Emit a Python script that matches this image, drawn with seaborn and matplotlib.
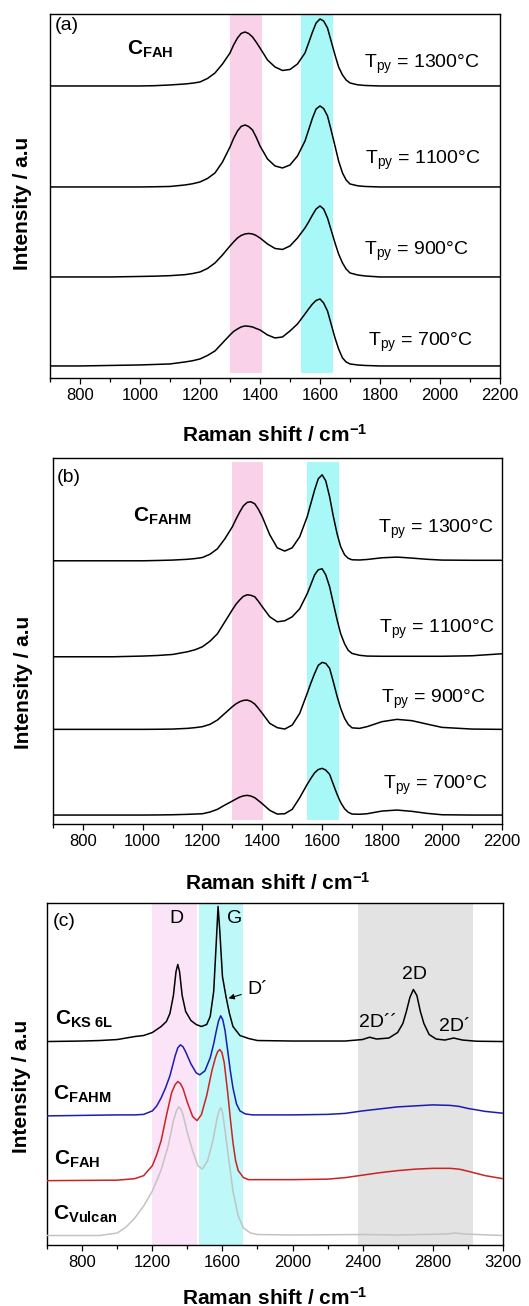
import numpy as np
import pandas as pd
import seaborn as sns
import matplotlib.pyplot as plt
from matplotlib.ticker import MultipleLocator

# ---- panels (a) and (b): Raman shift grid, cm-1 ----
shift_ab = [700, 800, 900, 1000, 1050, 1100, 1150, 1175, 1200, 1225,
            1250, 1275, 1300, 1312, 1325, 1337, 1350, 1362, 1375, 1387,
            1400, 1425, 1450, 1475, 1500, 1525, 1550, 1562, 1575, 1587,
            1600, 1612, 1625, 1637, 1650, 1662, 1675, 1687, 1700, 1725,
            1750, 1800, 1850, 1900, 1950, 2000, 2100, 2200]

temps = ['1300', '1100', '900', '700']

# C_FAH spectra (height above own baseline, a.u.)
fah_1300 = [0, 0, 0, 0, 0.3, 1, 2, 2.8, 4, 7.5,
            13, 22, 33, 41, 48, 52.5, 54, 52.5, 49, 44,
            38, 26, 19, 15.5, 16.5, 22, 33, 43, 54, 63,
            67, 65, 58, 45, 31, 19, 11, 6, 3, 1.2,
            0.5, 0, 0, 0, 0, 0, 0, 0]
fah_1100 = [0, 0, 0, 0, 0.2, 0.5, 2, 3.2, 5, 8.5,
            14, 25, 40, 48.5, 56, 60.5, 62, 60.5, 57, 50,
            41, 28, 21, 19, 22, 31, 46, 57, 69, 78,
            81, 78.5, 71, 57, 41, 26, 14, 7, 3, 1.2,
            0.5, 0, 0, 0, 0, 0, 0, 0]
fah_900 = [0, 0, 0, 0.5, 0.8, 1.3, 2.3, 3.4, 5, 8.5,
           14, 22, 31, 35, 39, 41.5, 43, 43.5, 43, 41.5,
           39, 33, 28.5, 27.5, 31, 39, 49, 55, 62, 68,
           71, 68, 59, 47, 34, 23, 14, 8, 4, 2,
           1, 0, 0, 0, 0, 0, 0, 0]
fah_700 = [0, 0, 0.5, 1, 1.5, 2, 4, 5.2, 7, 10.5,
           15, 23, 31, 34.5, 37, 39, 40, 39.7, 39, 37.5,
           36, 31, 28, 29, 35, 42, 52, 57, 62, 65.5,
           67, 63, 55, 42, 28, 17, 8, 4, 2, 1,
           0.5, 0, 0, 0, 0, 0, 0, 0]
offset_a = [292, 191, 101, 12]

# C_FAHM spectra
fahm_1300 = [0, 0, 0, 0, 0.3, 0.7, 1.5, 2.2, 3.3, 6.5,
             12, 22, 34, 41.5, 49, 55, 58.5, 59, 57, 51.5,
             44, 26, 13, 9.7, 13, 24, 44, 57, 71, 82,
             86, 80, 64, 45, 27, 14, 6, 2.5, 1, 0.8,
             1.3, 3, 3.7, 2.7, 1.5, 0.7, 0.5, 0.5]
fahm_1100 = [0, 0, 0, 0.7, 1.3, 2.3, 5, 7, 10, 15.5,
             23, 35, 47, 52.5, 57, 60.5, 62, 61.5, 60, 55.5,
             50, 40, 35, 36, 40, 48, 63, 72, 82, 87,
             88, 82, 70, 54, 37, 23, 13, 6.5, 3.3, 1.5,
             0.7, 0.5, 0.5, 0.5, 0.5, 0.5, 1, 3]
fahm_900 = [0, 0, 0, 0, 0.1, 0.3, 1, 1.7, 2.7, 5,
            9.3, 16, 22.7, 25.5, 27.7, 29, 29.3, 28, 25.3, 21,
            16, 6, 1.7, 0.3, 4.3, 16, 36, 46, 56, 64,
            67, 66, 61, 48, 33, 21, 11, 5, 1.5, 1,
            2.7, 7.7, 10, 8.7, 5.3, 2, 0.3, 0]
fahm_700 = [0, 0, 0, 0, 0.1, 0.3, 0.7, 1, 1.3, 3,
            5.7, 10, 14, 16, 18, 19.2, 19.7, 19, 17.3, 14.5,
            11.3, 4.7, 1, 1.3, 5.7, 17.3, 30.7, 36.5, 42.3, 45.5,
            46.7, 45, 40.7, 31, 20.7, 12.5, 6.3, 2.8, 1, 0.8,
            1.3, 4, 5, 3.7, 1.7, 0.3, 0, 0]
offset_b = [263.6, 167.6, 95, 9.3]

# ---- panel (c): comparison of carbons ----
ks_shift = [600, 800, 900, 1000, 1100, 1150, 1200, 1250, 1280, 1300,
            1320, 1335, 1345, 1355, 1370, 1390, 1420, 1450, 1480, 1510,
            1530, 1550, 1565, 1575, 1585, 1600, 1620, 1640, 1660, 1700,
            1750, 1800, 2000, 2300, 2400, 2440, 2480, 2550, 2600, 2630,
            2650, 2670, 2690, 2710, 2730, 2750, 2780, 2820, 2870, 2920,
            2970, 3050, 3200]
ks_int = [0, 0.5, 1, 2, 5, 6, 9, 15, 20, 28,
          46, 70, 77, 70, 46, 30, 21, 17, 15, 17,
          25, 50, 100, 135, 110, 65, 45, 28, 15, 6,
          3, 1, 0.5, 0.5, 2, 4.3, 2.5, 3.5, 9, 18,
          30, 44, 52, 46, 30, 18, 7, 2.5, 1.5, 3.5,
          1.5, 0.3, 0]

fahm_shift = [600, 1000, 1100, 1150, 1200, 1225, 1250, 1275, 1300, 1315,
              1330, 1345, 1360, 1375, 1390, 1420, 1450, 1470, 1500, 1530,
              1550, 1565, 1578, 1590, 1602, 1615, 1630, 1645, 1660, 1680,
              1700, 1730, 1770, 1850, 2000, 2200, 2300, 2400, 2500, 2600,
              2700, 2800, 2900, 2950, 3000, 3100, 3200]
fahm_int = [0, 1, 1, 1.5, 5, 10, 18, 28, 40, 50,
            60, 68, 71, 69, 64, 52, 43, 41, 45, 58,
            72, 85, 95, 100, 96, 85, 65, 45, 28, 12,
            5, 2, 1, 1, 1, 1.5, 2.5, 5, 7, 9,
            10, 11, 10.5, 9.5, 7.5, 4.5, 2.7]

fah_shift = [600, 1000, 1100, 1150, 1200, 1225, 1250, 1280, 1310, 1330,
             1345, 1360, 1375, 1400, 1430, 1455, 1480, 1510, 1540, 1560,
             1573, 1585, 1597, 1610, 1630, 1645, 1660, 1675, 1690, 1720,
             1750, 2000, 2200, 2300, 2400, 2500, 2600, 2700, 2800, 2900,
             2950, 3000, 3100, 3200]
fah_int = [0, 0.5, 2, 5, 15, 26, 40, 65, 88, 96,
           99, 97, 92, 78, 64, 60, 66, 85, 110, 123,
           129, 131, 128, 118, 88, 62, 38, 20, 10, 3,
           1, 1, 1.5, 3, 5.5, 8, 10, 11.5, 12.3, 12.3,
           11.5, 9.5, 5, 2]

vul_shift = [600, 900, 1000, 1050, 1100, 1150, 1200, 1250, 1290, 1320,
             1337, 1350, 1362, 1375, 1400, 1430, 1460, 1485, 1515, 1545,
             1570, 1582, 1592, 1602, 1615, 1635, 1660, 1690, 1720, 1760,
             1800, 2000, 2400, 2600, 2880, 2930, 2980, 3200]
vul_int = [0.5, 0.5, 3, 9, 18, 30, 45, 66, 90, 115,
           125, 129, 127, 121, 103, 85, 70, 67, 75, 95,
           118, 126, 128, 122, 105, 78, 45, 20, 8, 3,
           1.5, 1, 1.5, 1, 2, 3, 2, 0.5]

samples_c = ['KS 6L', 'FAHM', 'FAH', 'Vulcan']
offset_c = [203.3, 129, 64.3, 9]
colors_c = {'KS 6L': 'black', 'FAHM': '#1c1cb0', 'FAH': '#cc2222', 'Vulcan': '#c3c3c3'}

sns.set_style('ticks')
plt.rcParams['font.family'] = ['Liberation Sans', 'DejaVu Sans']
plt.rcParams['mathtext.fontset'] = 'custom'
plt.rcParams['mathtext.rm'] = 'Liberation Sans'
plt.rcParams['mathtext.bf'] = 'Liberation Sans:bold'
plt.rcParams['mathtext.it'] = 'Liberation Sans:italic'
plt.rcParams['text.color'] = 'black'
plt.rcParams['axes.labelcolor'] = 'black'
plt.rcParams['xtick.color'] = 'black'


def stack_frame(shifts, curves, offsets, names):
    parts = []
    for s, h, off, n in zip(shifts, curves, offsets, names):
        parts.append(pd.DataFrame({'shift': s, 'intensity': np.array(h, float) + off, 'sample': n}))
    return pd.concat(parts, ignore_index=True)


def style_axis(ax, xlim, ylim, major, minor, xlab_y, ylab_x, ylab_y):
    ax.set_xlim(*xlim)
    ax.set_ylim(*ylim)
    ax.set_yticks([])
    ax.xaxis.set_major_locator(MultipleLocator(major))
    ax.xaxis.set_minor_locator(MultipleLocator(minor))
    ax.tick_params(axis='x', which='major', length=4, width=0.9, labelsize=12, pad=3)
    ax.tick_params(axis='x', which='minor', length=3, width=0.9)
    for sp in ax.spines.values():
        sp.set_visible(True)
        sp.set_linewidth(1.0)
        sp.set_color('black')
    ax.set_xlabel(r'Raman shift / cm$^{\mathbf{-1}}$', fontsize=15, fontweight='bold', color='black')
    ax.set_ylabel('Intensity / a.u', fontsize=15, fontweight='bold', color='black')
    ax.xaxis.set_label_coords(0.5, xlab_y)
    ax.yaxis.set_label_coords(ylab_x, ylab_y)


fig = plt.figure(figsize=(5.29, 13.06), dpi=100)
ax_a = fig.add_axes([0.0945, 0.7106, 0.8507, 0.2787])
ax_b = fig.add_axes([0.0998, 0.3688, 0.8486, 0.2802])
ax_c = fig.add_axes([0.0894, 0.0467, 0.8609, 0.2621])

# (a)
ax_a.axvspan(1300, 1408, ymin=0.014, ymax=1, color='#f9d1e8', lw=0, zorder=0)
ax_a.axvspan(1536, 1643, ymin=0.014, ymax=1, color='#a8f8f8', lw=0, zorder=0)
df_a = stack_frame([shift_ab] * 4, [fah_1300, fah_1100, fah_900, fah_700], offset_a, temps)
sns.lineplot(data=df_a, x='shift', y='intensity', units='sample', estimator=None,
             color='black', lw=1.1, ax=ax_a, zorder=3)
style_axis(ax_a, (700, 2200), (0, 364), 200, 100, -0.126, -0.04, 0.48)
ax_a.text(717, 352, '(a)', fontsize=14, va='center', ha='left')
ax_a.text(956, 323, r'$\mathbf{C}_{\mathbf{FAH}}$', fontsize=15, va='baseline', ha='left')
for t, (xt, yt) in zip(temps, [(1939, 310), (1944, 214), (1922, 123), (1936, 32)]):
    ax_a.text(xt, yt, r'T$_{\mathrm{py}}$ = ' + t + '°C', fontsize=14, ha='center', va='baseline')

# (b)
ax_b.axvspan(1298, 1404, ymin=0.012, ymax=0.99, color='#f9d1e8', lw=0, zorder=0)
ax_b.axvspan(1550, 1658, ymin=0.012, ymax=0.99, color='#a8f8f8', lw=0, zorder=0)
df_b = stack_frame([shift_ab] * 4, [fahm_1300, fahm_1100, fahm_900, fahm_700], offset_b, temps)
sns.lineplot(data=df_b, x='shift', y='intensity', units='sample', estimator=None,
             color='black', lw=1.1, ax=ax_b, zorder=3)
style_axis(ax_b, (700, 2200), (0, 366), 200, 100, -0.1295, -0.044, 0.387)
ax_b.text(714, 347, '(b)', fontsize=14, va='center', ha='left')
ax_b.text(968, 302.6, r'$\mathbf{C}_{\mathbf{FAHM}}$', fontsize=15, va='baseline', ha='left')
for t, (xt, yt) in zip(temps, [(1980, 291), (1982, 191.6), (1972, 121.6), (1977, 35)]):
    ax_b.text(xt, yt, r'T$_{\mathrm{py}}$ = ' + t + '°C', fontsize=14, ha='center', va='baseline')

# (c)
ax_c.axvspan(1196, 1452, ymin=0.0, ymax=1, color='#fbe3f8', lw=0, zorder=0)
ax_c.axvspan(1464, 1719, ymin=0.0, ymax=1, color='#bef8f8', lw=0, zorder=0)
ax_c.axvspan(2371, 3028, ymin=0.0, ymax=1, color='#e3e3e3', lw=0, zorder=0)
df_c = stack_frame([ks_shift, fahm_shift, fah_shift, vul_shift],
                   [ks_int, fahm_int, fah_int, vul_int], offset_c, samples_c)
sns.lineplot(data=df_c, x='shift', y='intensity', hue='sample', palette=colors_c,
             units='sample', estimator=None, lw=1.1, legend=False, ax=ax_c, zorder=3)
style_axis(ax_c, (600, 3200), (0, 342), 400, 200, -0.121, -0.036, 0.463)
ax_c.text(634, 323, '(c)', fontsize=14, va='center', ha='left')
ax_c.text(1335, 326.7, 'D', fontsize=14, va='center', ha='center')
ax_c.text(1671, 326.7, 'G', fontsize=14, va='center', ha='center')
ax_c.text(2699, 270, '2D', fontsize=14, va='center', ha='center')
ax_c.text(2490, 222.3, '2D\u00b4\u00b4', fontsize=14, va='center', ha='center')
ax_c.text(2927, 218.3, '2D\u00b4', fontsize=14, va='center', ha='center')
ax_c.annotate('D\u00b4', xy=(1635, 246.5), xytext=(1800, 255), fontsize=14,
              va='center', ha='center',
              arrowprops=dict(arrowstyle='-|>', lw=0.8, color='black', mutation_scale=8,
                              shrinkA=2, shrinkB=0))
for name, (xt, yt) in zip(samples_c, [(644, 220), (634, 145), (640, 80), (631, 25)]):
    lab = r'$\mathbf{C}_{\mathbf{' + name.replace(' ', r'\ ') + '}}$'
    ax_c.text(xt, yt, lab, fontsize=15, va='baseline', ha='left')

fig.savefig('out.png', dpi=100)
